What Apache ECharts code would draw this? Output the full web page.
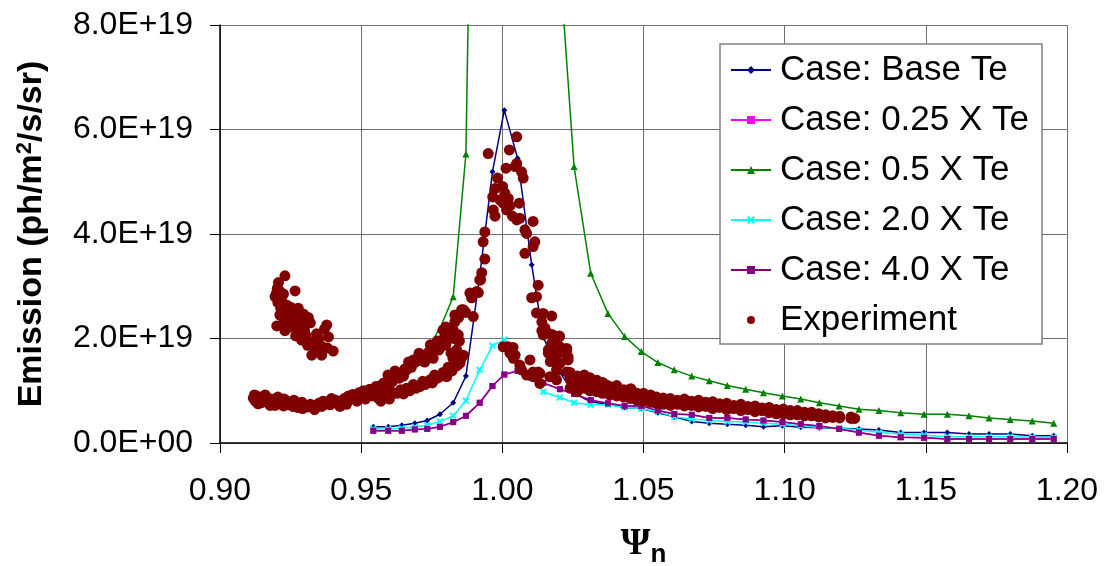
<!DOCTYPE html>
<html>
<head>
<meta charset="utf-8">
<script src="https://cdn.jsdelivr.net/npm/echarts@6/dist/echarts.min.js"></script>
<style>
html,body{margin:0;padding:0;background:#fff;}
#chart{width:1104px;height:566px;}
</style>
</head>
<body>
<div id="chart"></div>
<script>
// ---- data (emission in units of 1E+19 ph/m^2/s/sr) ----
const psiModel = [0.9543,0.9596,0.9644,0.9690,0.9734,0.9779,0.9826,0.9871,0.9920,0.9965,
  1.0007,1.0054,1.0104,1.0145,1.0204,1.0254,1.0313,1.0374,1.0433,1.0492,
  1.0551,1.0609,1.0671,1.0733,1.0797,1.0862,1.0925,1.0992,1.1057,1.1123,
  1.1193,1.1263,1.1334,1.1411,1.1494,1.1576,1.1653,1.1724,1.1799,1.1877,1.1953];

const caseBase = [0.31,0.31,0.34,0.38,0.43,0.55,0.77,1.28,3.2,5.19,
  6.37,5.45,3.41,2.02,1.35,0.95,0.79,0.74,0.68,0.66,
  0.58,0.50,0.41,0.38,0.36,0.34,0.31,0.33,0.30,0.29,
  0.28,0.27,0.25,0.20,0.20,0.20,0.17,0.17,0.17,0.14,0.14];

const case025 = [0.235,0.235,0.235,0.26,0.27,0.31,0.40,0.52,0.77,1.09,
  1.31,1.38,1.25,1.15,1.03,0.94,0.82,0.76,0.71,0.71,
  0.62,0.555,0.54,0.48,0.48,0.45,0.43,0.40,0.36,0.325,
  0.27,0.20,0.14,0.11,0.10,0.077,0.077,0.077,0.077,0.077,0.077];

const case05 = [0.88,1.01,1.27,1.53,1.81,2.19,2.80,5.53,21.6,32,
  38,34,24,15,9.15,5.29,3.25,2.48,2.04,1.75,
  1.54,1.40,1.28,1.19,1.10,1.03,0.96,0.90,0.84,0.77,
  0.71,0.645,0.62,0.58,0.55,0.55,0.52,0.48,0.45,0.42,0.38];

const case20 = [0.27,0.27,0.28,0.31,0.34,0.41,0.52,0.81,1.40,1.86,
  1.98,1.66,1.24,0.98,0.87,0.77,0.73,0.73,0.68,0.66,
  0.60,0.50,0.46,0.43,0.41,0.40,0.38,0.36,0.325,0.30,
  0.28,0.25,0.20,0.17,0.15,0.12,0.12,0.12,0.12,0.11,0.11];

const case40 = [0.235,0.235,0.235,0.26,0.27,0.31,0.40,0.52,0.77,1.09,
  1.31,1.38,1.25,1.15,1.03,0.94,0.82,0.76,0.71,0.71,
  0.62,0.555,0.54,0.48,0.48,0.45,0.43,0.40,0.36,0.325,
  0.27,0.20,0.14,0.11,0.10,0.077,0.077,0.077,0.077,0.077,0.077];

const experiment = [
  // isolated cluster
  [0.9230,3.20],[0.9207,3.07],[0.9203,2.96],[0.9200,2.87],[0.9212,2.90],[0.9225,2.85],[0.9266,2.91],[0.9205,2.69],
  [0.9218,2.72],[0.9236,2.64],[0.9250,2.60],[0.9277,2.58],[0.9212,2.45],[0.9240,2.50],[0.9262,2.45],[0.9295,2.47],
  [0.9313,2.40],[0.9201,2.24],[0.9225,2.30],[0.9240,2.35],[0.9255,2.22],[0.9268,2.28],[0.9285,2.20],[0.9300,2.23],
  [0.9320,2.30],[0.9342,2.09],[0.9378,2.26],[0.9370,2.18],[0.9268,2.05],[0.9289,1.97],[0.9305,2.05],[0.9318,1.92],
  [0.9335,1.95],[0.9350,2.00],[0.9325,1.68],[0.9360,1.68],[0.9340,1.80],[0.9360,1.85],[0.9384,2.03],[0.9401,1.76],
  [0.9380,1.82],[0.9245,2.38],[0.9280,2.35],[0.9300,2.12],[0.9215,2.58],[0.9195,2.80],[0.9230,2.15],[0.9310,1.87],
  [0.9352,1.75],
  // lower-left band
  [0.9118,0.86],[0.9125,0.80],[0.9130,0.90],[0.9138,0.83],[0.9145,0.77],[0.9150,0.88],[0.9158,0.81],[0.9165,0.86],
  [0.9172,0.76],[0.9180,0.84],[0.9188,0.79],[0.9195,0.72],[0.9200,0.82],[0.9210,0.76],[0.9218,0.80],[0.9225,0.71],
  [0.9232,0.77],[0.9240,0.73],[0.9250,0.79],[0.9258,0.70],[0.9265,0.74],[0.9275,0.68],[0.9283,0.73],[0.9292,0.66],
  [0.9300,0.71],[0.9310,0.69],[0.9320,0.74],[0.9330,0.68],[0.9340,0.72],[0.9350,0.76],[0.9360,0.70],[0.9370,0.74],
  [0.9380,0.79],[0.9390,0.73],[0.9400,0.77],[0.9410,0.82],[0.9420,0.76],[0.9430,0.80],[0.9440,0.85],[0.9450,0.79],
  [0.9455,0.90],[0.9462,0.84],[0.9470,0.93],[0.9478,0.87],[0.9485,0.80],[0.9492,0.96],[0.9500,0.89],[0.9508,1.00],
  [0.9515,0.84],[0.9522,0.94],[0.9530,1.03],[0.9538,0.90],[0.9545,0.98],[0.9552,1.08],[0.9560,0.86],[0.9568,1.10],
  [0.9575,0.95],[0.9122,0.92],[0.9135,0.75],[0.9160,0.92],[0.9178,0.72],[0.9205,0.88],[0.9228,0.84],[0.9262,0.82],
  [0.9290,0.78],[0.9335,0.64],[0.9365,0.80],[0.9395,0.85],[0.9425,0.70],[0.9448,0.74],
  // upper rising branch
  [0.9580,1.15],[0.9590,1.08],[0.9600,1.22],[0.9610,1.17],[0.9614,1.27],[0.9625,1.30],[0.9635,1.24],[0.9645,1.35],
  [0.9655,1.42],[0.9661,1.40],[0.9670,1.50],[0.9678,1.45],[0.9685,1.59],[0.9692,1.55],[0.9700,1.62],[0.9710,1.58],
  [0.9720,1.68],[0.9732,1.65],[0.9740,1.74],[0.9750,1.70],[0.9760,1.80],[0.9767,1.84],[0.9775,1.78],[0.9780,1.92],
  [0.9790,1.94],[0.9800,1.88],[0.9807,2.05],[0.9814,2.00],[0.9790,2.16],[0.9800,2.22],[0.9820,2.12],[0.9832,2.32],
  [0.9832,2.45],[0.9845,2.40],[0.9862,2.55],[0.9870,2.50],[0.9897,2.42],[0.9885,2.87],[0.9909,2.90],[0.9920,3.12],
  [0.9915,2.88],[0.9891,2.78],[0.9856,2.55],[0.9826,2.16],[0.9844,2.07],[0.9838,1.98],
  [0.9595,1.30],[0.9620,1.38],[0.9650,1.28],[0.9668,1.55],[0.9705,1.72],[0.9725,1.55],[0.9745,1.88],[0.9755,1.62],
  [0.9770,1.95],[0.9785,1.85],[0.9795,2.02],
  // lower rising branch
  [0.9570,0.80],[0.9578,0.86],[0.9590,0.92],[0.9600,0.84],[0.9610,0.97],[0.9626,0.95],[0.9640,1.02],[0.9650,0.94],
  [0.9661,1.05],[0.9672,1.00],[0.9685,1.12],[0.9695,1.05],[0.9708,1.08],[0.9718,1.18],[0.9728,1.12],[0.9744,1.21],
  [0.9752,1.15],[0.9760,1.30],[0.9770,1.24],[0.9779,1.27],[0.9790,1.35],[0.9803,1.27],[0.9808,1.45],[0.9814,1.43],
  [0.9822,1.38],[0.9832,1.56],[0.9850,1.53],[0.9855,1.62],[0.9862,1.68],[0.9840,1.48],[0.9825,1.62],[0.9818,1.72],
  [0.9838,1.78],[0.9848,1.95],
  // peak
  [0.9950,5.54],[1.0051,5.86],[1.0025,5.61],[1.0013,5.26],[0.9983,5.07],[0.9974,4.87],[0.9966,4.71],[1.0001,4.91],
  [1.0009,4.78],[1.0021,4.68],[1.0045,5.29],[1.0051,5.35],[1.0068,5.19],[1.0074,5.07],[0.9992,4.65],[1.0003,4.59],
  [1.0027,4.54],[0.9968,4.46],[0.9974,4.34],[1.0015,4.46],[1.0036,4.34],[1.0051,4.27],[1.0060,4.59],[1.0062,4.30],
  [1.0109,4.24],[0.9938,4.04],[0.9932,3.85],[0.9938,3.52],[0.9927,3.26],[0.9923,3.12],[1.0080,4.08],[1.0086,4.01],
  [1.0115,3.85],[1.0109,3.76],[1.0080,3.63],[1.0127,3.02],[1.0104,2.78],[1.0121,2.80],[1.0121,2.49],[1.0145,2.48],
  [1.0175,2.43],[1.0140,2.32],[1.0151,2.20],[1.0140,2.15],[1.0178,2.07],[1.0202,2.03],[1.0175,1.91],[1.0168,1.81],
  [1.0204,1.84],[1.0228,1.81],[1.0163,1.72],[1.0222,1.72],[1.0180,1.59],[1.0233,1.59],[1.0192,1.40],[1.0228,1.36],
  [1.0003,1.84],[1.0020,1.84],[1.0038,1.83],[1.0027,1.72],[1.0039,1.62],[1.0062,1.49],[1.0068,1.40],[1.0098,1.59],
  [1.0086,1.30],[1.0109,1.27],[1.0127,1.36],[1.0133,1.14],[1.0045,1.68],[1.0109,1.36],[1.0133,1.33],[1.0145,2.07],
  [1.0163,2.10],[1.0202,2.05],[1.0163,1.78],[1.0192,1.68],[1.0228,1.78],[1.0233,1.65],[1.0170,1.56],[1.0205,1.53],
  [1.0168,1.27],[1.0192,1.21],[1.0239,1.33],[1.0257,1.17],[1.0281,1.24],
  // decaying tail
  [1.0240,1.05],[1.0240,1.22],[1.0240,1.35],[1.0265,1.10],[1.0265,1.28],[1.0265,0.98],[1.0290,1.05],[1.0290,1.20],
  [1.0290,1.30],[1.0310,1.00],[1.0310,1.14],[1.0310,1.25],[1.0335,0.98],[1.0335,1.12],[1.0335,1.20],[1.0355,1.05],
  [1.0355,0.95],[1.0355,1.16],[1.0380,0.92],[1.0380,1.08],[1.0380,1.00],[1.0405,0.98],[1.0405,1.10],[1.0405,0.90],
  [1.0430,0.88],[1.0430,1.02],[1.0430,0.95],[1.0455,0.85],[1.0455,0.97],[1.0455,1.04],[1.0476,0.82],[1.0476,0.95],
  [1.0476,0.90],[1.0500,0.80],[1.0500,0.89],[1.0500,0.95],[1.0525,0.78],[1.0525,0.86],[1.0525,0.92],[1.0546,0.76],
  [1.0546,0.82],[1.0546,0.88],[1.0570,0.74],[1.0570,0.80],[1.0570,0.86],[1.0595,0.72],[1.0595,0.79],[1.0595,0.85],
  [1.0620,0.74],[1.0620,0.82],[1.0620,0.78],[1.0645,0.71],[1.0645,0.79],[1.0645,0.84],[1.0670,0.72],[1.0670,0.80],
  [1.0670,0.76],[1.0695,0.69],[1.0695,0.76],[1.0695,0.82],[1.0720,0.70],[1.0720,0.78],[1.0720,0.74],[1.0745,0.66],
  [1.0745,0.73],[1.0745,0.79],[1.0770,0.68],[1.0770,0.75],[1.0770,0.71],[1.0795,0.64],[1.0795,0.71],[1.0795,0.76],
  [1.0820,0.66],[1.0820,0.72],[1.0820,0.69],[1.0845,0.62],[1.0845,0.69],[1.0845,0.74],[1.0870,0.64],[1.0870,0.70],
  [1.0870,0.66],[1.0895,0.60],[1.0895,0.66],[1.0895,0.71],[1.0920,0.62],[1.0920,0.67],[1.0920,0.63],[1.0945,0.58],
  [1.0945,0.63],[1.0945,0.68],[1.0970,0.59],[1.0970,0.64],[1.0970,0.56],[1.0995,0.56],[1.0995,0.61],[1.0995,0.65],
  [1.1020,0.57],[1.1020,0.62],[1.1020,0.54],[1.1045,0.54],[1.1045,0.58],[1.1045,0.62],[1.1070,0.55],[1.1070,0.59],
  [1.1070,0.52],[1.1095,0.52],[1.1095,0.56],[1.1095,0.59],[1.1120,0.53],[1.1120,0.50],[1.1120,0.56],[1.1145,0.50],
  [1.1145,0.54],[1.1145,0.48],[1.1170,0.49],[1.1170,0.52],[1.1195,0.48],[1.1195,0.51],[1.1235,0.47],[1.1235,0.50],
  [1.1248,0.47],
  [1.0298,1.05],[1.0334,1.14],[1.0369,1.11],[1.0405,1.08],[1.0440,1.01],[1.0476,0.95],[1.0511,0.89],[1.0546,0.82],
  [1.0582,0.79],[1.0617,0.79],[1.0653,0.79]
];

const xTicks = {min: 0.90, max: 1.20, step: 0.05};
const yTicks = {min: 0, max: 8, step: 2};

function pairs(xs, ys){ return xs.map((x,i)=>[x, ys[i]]); }

const xShape = 'path://M0,2 L2,0 L5,3 L8,0 L10,2 L7,5 L10,8 L8,10 L5,7 L2,10 L0,8 L3,5 Z';
const dotIcon = 'path://M-20,-5 L-19.9,-5 L-19.9,-4.9 Z M20,5 L19.9,5 L19.9,4.9 Z M-4,0 A4,4 0 1,0 4,0 A4,4 0 1,0 -4,0 Z';

const chart = echarts.init(document.getElementById('chart'), null, {renderer:'canvas'});
const font = 'Liberation Sans, Arial, sans-serif';

function lineSeries(name, ys, color, symbol, size){
  return {
    name: name, type:'line', data: pairs(psiModel, ys),
    symbol: symbol, symbolSize: size, showSymbol: true,
    lineStyle:{color: color, width: 1.5},
    itemStyle:{color: color, opacity: 1},
    clip: true, z: 2, animation: false
  };
}

chart.setOption({
  backgroundColor:'#ffffff',
  animation:false,
  grid:{left:220, right:37, top:25, bottom:123, containLabel:false, outerBoundsMode:'none'},
  legend:{
    orient:'vertical', left:720, top:44,
    padding:[8,13,6,10],
    itemWidth:40, itemHeight:10, itemGap:14,
    backgroundColor:'#ffffff', borderColor:'#808080', borderWidth:1.5,
    textStyle:{fontFamily:font, fontSize:35, color:'#000', lineHeight:36, padding:[0,0,0,4]},
    data:['Case: Base Te','Case: 0.25 X Te','Case: 0.5 X Te','Case: 2.0 X Te','Case: 4.0 X Te',
      {name:'Experiment', icon: dotIcon}]
  },
  xAxis:{
    type:'value', min:xTicks.min, max:xTicks.max, interval:xTicks.step,
    axisLine:{show:true, onZero:false, lineStyle:{color:'#000', width:1.5}},
    axisTick:{show:true, length:10, lineStyle:{color:'#000', width:1}},
    splitLine:{show:true, lineStyle:{color:'#707070', width:1}},
    axisLabel:{fontFamily:font, fontSize:32, color:'#000', margin:32, formatter:v=>v.toFixed(2)},
    name:'{psi|Ψ}{sub|n}', nameLocation:'middle', nameGap:77,
    nameTextStyle:{rich:{
      psi:{fontFamily:'Liberation Serif, DejaVu Serif, serif', fontWeight:'bold', fontSize:38, color:'#000'},
      sub:{fontFamily:font, fontWeight:'bold', fontSize:26, color:'#000', padding:[22,0,0,0]}
    }}
  },
  yAxis:{
    type:'value', min:yTicks.min, max:yTicks.max, interval:yTicks.step,
    axisLine:{show:true, lineStyle:{color:'#000', width:1.5}},
    axisTick:{show:true, length:10, lineStyle:{color:'#000', width:1}},
    splitLine:{show:true, lineStyle:{color:'#707070', width:1}},
    axisLabel:{fontFamily:font, fontSize:32, color:'#000', margin:27,
      formatter:v=> v===0 ? '0.0E+00' : v.toFixed(1)+'E+19'},
    name:'{t|Emission (ph/m}{sup|2}{t|/s/sr)}', nameLocation:'middle', nameGap:170, nameRotate:90,
    nameTextStyle:{rich:{
      t:{fontFamily:font, fontWeight:'bold', fontSize:34, color:'#000'},
      sup:{fontFamily:font, fontWeight:'bold', fontSize:22, color:'#000', padding:[0,0,14,0]}
    }}
  },
  series:[
    lineSeries('Case: Base Te', caseBase, '#000080', 'diamond', 6),
    lineSeries('Case: 0.25 X Te', case025, '#FF00FF', 'rect', 6),
    lineSeries('Case: 0.5 X Te', case05, '#008000', 'triangle', 7),
    lineSeries('Case: 2.0 X Te', case20, '#00FFFF', xShape, 7),
    lineSeries('Case: 4.0 X Te', case40, '#800080', 'rect', 6),
    {
      name:'Experiment', type:'scatter', data: experiment,
      symbol:'circle', symbolSize:11, itemStyle:{color:'#800000', opacity:1}, z:3, animation:false
    }
  ]
});
</script>
</body>
</html>
